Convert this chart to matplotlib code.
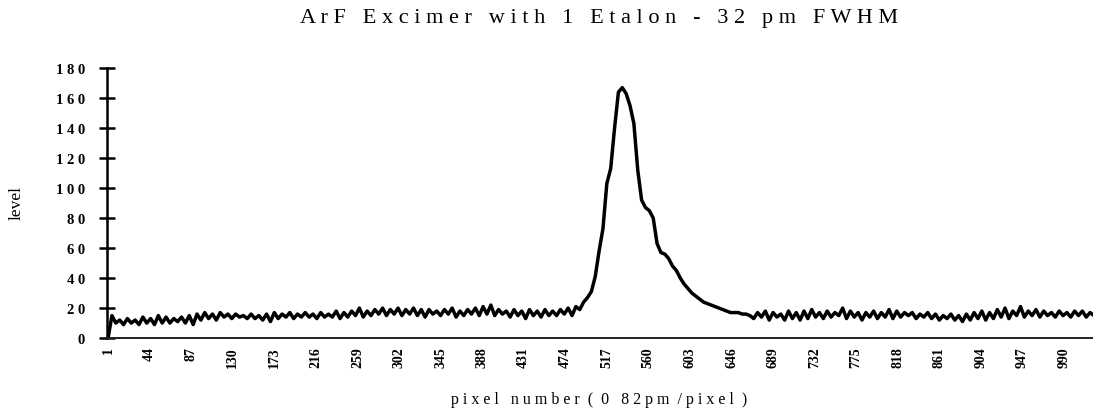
import matplotlib

matplotlib.use("Agg")
import matplotlib.pyplot as plt
import numpy as np

# detector levels, sampled every 4 pixels
LEFT_START = 1
LEFT_LEVEL = [
    0, 15, 10, 12, 9, 13, 10, 12, 9, 14,
    10, 13, 9, 15, 10, 14, 10, 13, 11, 14,
    10, 15, 9, 16, 12, 17, 13, 16, 12, 17,
    14, 16, 13, 16, 14, 15, 13, 16, 13, 15,
    12, 16, 11, 17, 13, 16, 14, 17, 13, 16,
    14, 17, 14, 16, 13, 17, 14, 16, 14, 18,
    13, 17, 14, 18, 15, 20, 14, 18, 15, 19,
    16, 20, 15, 19, 16, 20, 15, 19, 16, 20,
    15, 19, 14, 19, 16, 18, 15, 19, 16, 20,
    14, 18, 15, 19, 16, 20, 15, 21, 16, 22,
    15, 19, 16, 18, 14, 19, 15, 18, 13, 19,
    15, 18, 14, 19, 15, 18, 15, 19, 16, 20,
    15, 21,
]
PEAK_START = 489
PEAK_LEVEL = [
    19, 24, 27, 31, 41, 58, 73, 103, 113, 140,
    164, 167, 163, 155, 143, 112, 92, 87, 85, 80,
    63, 57, 56, 53, 48, 45, 40, 36, 33, 30,
    28, 26, 24, 23, 22, 21, 20, 19, 18, 17,
    17, 17, 16, 16, 15,
]
RIGHT_START = 669
RIGHT_LEVEL = [
    13, 17, 14, 18, 12, 17, 14, 16, 12, 18,
    13, 17, 12, 18, 13, 19, 14, 17, 13, 18,
    14, 17, 15, 20, 13, 18, 14, 17, 12, 17,
    14, 18, 13, 17, 14, 19, 13, 18, 14, 17,
    15, 17, 13, 16, 14, 17, 13, 16, 12, 15,
    13, 16, 12, 15, 11, 16, 12, 17, 13, 18,
    12, 17, 13, 19, 14, 20, 13, 18, 15, 21,
    14, 18, 15, 19, 14, 18, 15, 17, 14, 18,
    15, 17, 14, 18, 15, 18, 14, 17, 15,
]

X_TICKS = [1, 44, 87, 130, 173, 216, 259, 302, 345, 388, 431, 474, 517,
           560, 603, 646, 689, 732, 775, 818, 861, 904, 947, 990]
Y_TICKS = [0, 20, 40, 60, 80, 100, 120, 140, 160, 180]

TITLE = "A r F   E x c i m e r   w i t h   1   E t a l o n   -   3 2   p m   F W H M"
XLABEL = "p i x e l   n u m b e r  (  0   8 2 p m  / p i x e l  )"
YLABEL = "level"


def segment(start, levels):
    x = start + 4 * np.arange(len(levels))
    return x, np.asarray(levels, dtype=float)


plt.rcParams["font.family"] = ["Liberation Serif", "DejaVu Serif"]

fig = plt.figure(figsize=(10.93, 4.14), dpi=100)
ax = fig.add_axes([0.098, 0.181, 0.902, 0.652])

xs, ys = [], []
for start, levels in [(LEFT_START, LEFT_LEVEL), (PEAK_START, PEAK_LEVEL), (RIGHT_START, RIGHT_LEVEL)]:
    x, y = segment(start, levels)
    xs.append(x)
    ys.append(y)
ax.plot(np.concatenate(xs), np.concatenate(ys), color="black", linewidth=2.5,
        solid_joinstyle="round")

ax.set_xlim(0, 1020)
ax.set_ylim(0, 180)
for side in ["top", "right"]:
    ax.spines[side].set_visible(False)
ax.spines["left"].set_linewidth(1.8)
ax.spines["bottom"].set_linewidth(1.4)
ax.spines["bottom"].set_color("#222222")

ax.set_yticks(Y_TICKS, labels=[" ".join(str(v)) for v in Y_TICKS])
ax.tick_params(axis="y", direction="inout", length=12, width=1.8, labelsize=10.5, pad=10)
for lab in ax.get_yticklabels():
    lab.set_fontweight("bold")

ax.set_xticks(X_TICKS, labels=[str(v) for v in X_TICKS], rotation=90)
ax.tick_params(axis="x", length=0, labelsize=10, pad=6)
for lab in ax.get_xticklabels():
    lab.set_fontweight("bold")

fig.text(0.548, 0.955, TITLE, ha="center", va="center", fontsize=16)
fig.text(0.548, 0.035, XLABEL, ha="center", va="center", fontsize=11.5)
fig.text(0.015, 0.51, YLABEL, ha="center", va="center", rotation=90, fontsize=12.5)

fig.savefig("out.png", dpi=100)
